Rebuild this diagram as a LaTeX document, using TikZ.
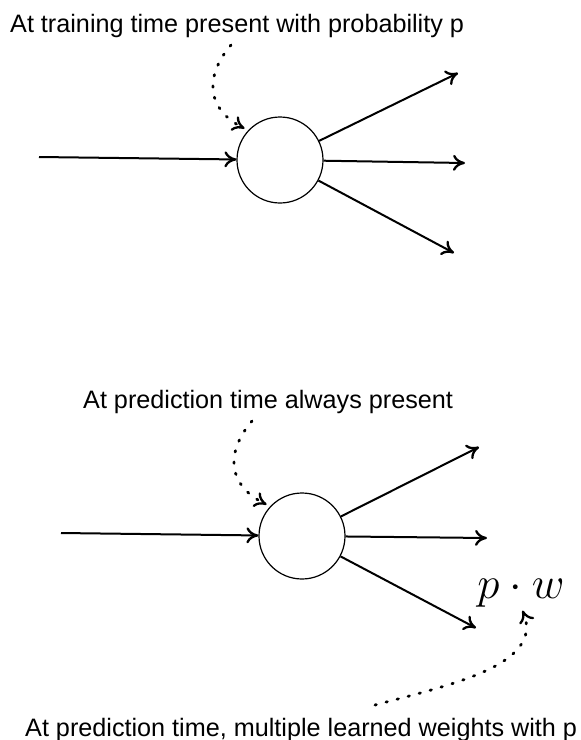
\RequirePackage{fix-cm}
\documentclass[tikz,border=0pt]{standalone}
\usepackage{fontspec}
\setmainfont{Liberation Sans}
\usetikzlibrary{arrows.meta}

\tikzset{
  neuron/.style={circle, draw, line width=1.2pt, minimum size=86pt, inner sep=0pt},
  label/.style={anchor=base west, inner sep=0pt, font=\fontsize{25.2}{30}\selectfont},
  edge/.style={->, line width=2pt},
  pointer/.style={->, line width=2.8pt, dash pattern=on 1.4pt off 10pt, line cap=round, shorten >=4pt}
}

\begin{document}
\begin{tikzpicture}[x=1pt, y=-1pt, >={Computer Modern Rightarrow[length=12pt, width=16pt, line width=2.3pt]}]
    \useasboundingbox (0,0) rectangle (581,740);

    % Training time
    \node[label] (train) at (10,32) {At training time present with probability p};
    \node[neuron] (n1) at (280,160) {};
    \coordinate (in1) at (39,157);
    \coordinate (up1) at (458,73);
    \coordinate (mid1) at (465,163);
    \coordinate (low1) at (454,253);
    \draw[edge] (in1) -- (n1);
    \draw[edge] (n1) -- (up1);
    \draw[edge] (n1) -- (mid1);
    \draw[edge] (n1) -- (low1);
    \coordinate (s1) at (231,45);
    \draw[pointer] (s1) .. controls (203,78) and (208,110) .. (n1.137);

    % Prediction time
    \node[label] (pred) at (83,408) {At prediction time always present};
    \node[neuron] (n2) at (302,536) {};
    \coordinate (in2) at (61,533);
    \coordinate (up2) at (479,447);
    \coordinate (mid2) at (487,538);
    \coordinate (low2) at (476,628);
    \draw[edge] (in2) -- (n2);
    \draw[edge] (n2) -- (up2);
    \draw[edge] (n2) -- (mid2);
    \draw[edge] (n2) -- (low2);
    \coordinate (s2) at (252,421);
    \draw[pointer] (s2) .. controls (224,454) and (229,486) .. (n2.137);

    % Scaled weights
    \node[anchor=base, inner sep=0pt, font=\fontsize{45}{50}\selectfont] (pw) at (521,598) {$p\cdot w$};
    \node[label] (weights) at (25,736) {At prediction time, multiple learned weights with p};
    \coordinate (s3) at (375,705);
    \draw[pointer] (s3) .. controls (450,685) and (545,665) .. (pw.south);
\end{tikzpicture}
\end{document}
